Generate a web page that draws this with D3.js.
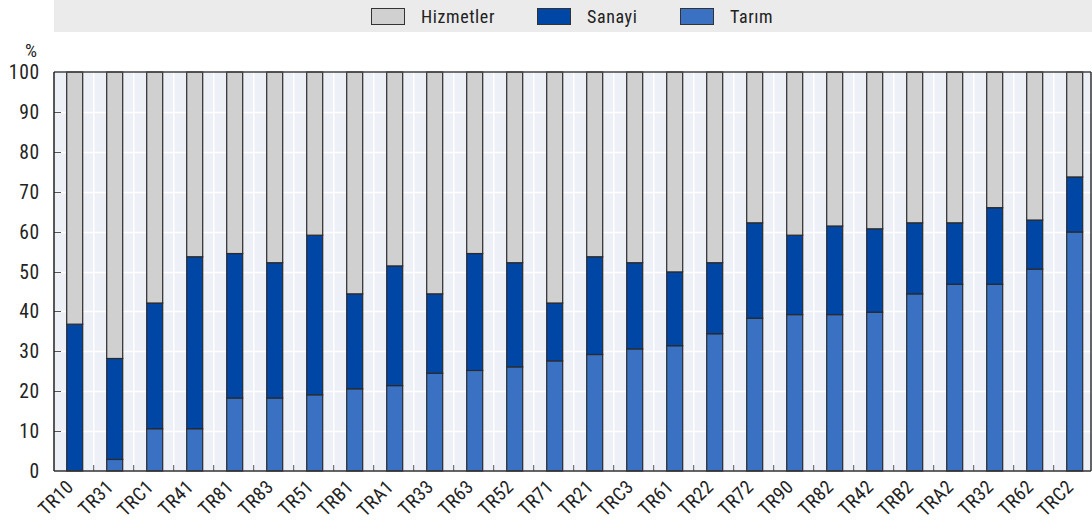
<!DOCTYPE html>
<html>
<head>
<meta charset="utf-8">
<script src="https://cdn.jsdelivr.net/npm/d3@7"></script>
<style>
  html, body { margin: 0; padding: 0; background: #fff; }
  svg { display: block; }
  text { font-family: "Liberation Sans Narrow", "Roboto Condensed", "DejaVu Sans Condensed", sans-serif; fill: #222; }
</style>
</head>
<body>
<svg id="chart" width="1092" height="532"></svg>
<script>
const categories = ["TR10","TR31","TRC1","TR41","TR81","TR83","TR51","TRB1","TRA1","TR33","TR63","TR52","TR71","TR21","TRC3","TR61","TR22","TR72","TR90","TR82","TR42","TRB2","TRA2","TR32","TR62","TRC2"];
const tarim     = [0, 2.9, 10.6, 10.6, 18.3, 18.3, 19.1, 20.6, 21.4, 24.5, 25.2, 26.1, 27.6, 29.2, 30.6, 31.4, 34.4, 38.3, 39.2, 39.2, 39.8, 44.4, 46.8, 46.8, 50.6, 59.9];
const sanayi    = [36.8, 25.3, 31.5, 43.1, 36.2, 33.9, 40.0, 23.8, 30.0, 19.9, 29.3, 26.1, 14.5, 24.5, 21.6, 18.5, 17.8, 23.9, 19.9, 22.2, 20.9, 17.8, 15.4, 19.2, 12.3, 13.8];
const hizmetler = [63.2, 71.8, 57.9, 46.3, 45.5, 47.8, 40.9, 55.6, 48.6, 55.6, 45.5, 47.8, 57.9, 46.3, 47.8, 50.1, 47.8, 37.8, 40.9, 38.6, 39.3, 37.8, 37.8, 34.0, 37.1, 26.3];
const seriesNames = ["Tarım", "Sanayi", "Hizmetler"];
const legendOrder = ["Hizmetler", "Sanayi", "Tarım"];
const yTicks = [0, 10, 20, 30, 40, 50, 60, 70, 80, 90, 100];

const colors = { "Tarım": "#3b71c3", "Sanayi": "#0046a5", "Hizmetler": "#d0d0d0" };

const svg = d3.select("#chart");
const plot = { left: 54, right: 1091, top: 72, bottom: 471 };

const x = d3.scaleBand().domain(categories).range([54.7, 1094.7]).paddingInner(0.6).paddingOuter(0.3);
const step = x.step();
const y = d3.scaleLinear().domain([0, 100]).range([plot.bottom, plot.top]);

const rows = categories.map((c, i) => ({ cat: c, "Tarım": tarim[i], "Sanayi": sanayi[i], "Hizmetler": hizmetler[i] }));
const stacked = d3.stack().keys(seriesNames)(rows);

// legend band
svg.append("rect").attr("x", 54).attr("y", 0).attr("width", 1038).attr("height", 32).attr("fill", "#ebebeb");
const legendPos = { "Hizmetler": 371, "Sanayi": 537, "Tarım": 680 };
legendOrder.forEach(name => {
  const lx = legendPos[name];
  svg.append("rect").attr("x", lx + 0.5).attr("y", 8.5).attr("width", 33).attr("height", 16)
    .attr("fill", colors[name]).attr("stroke", "#333").attr("stroke-width", 1);
  svg.append("text").attr("x", lx + 50).attr("y", 23).attr("font-size", 18)
    .attr("letter-spacing", 0.6).text(name);
});

// plot background
svg.append("rect").attr("x", plot.left).attr("y", plot.top).attr("width", plot.right - plot.left).attr("height", plot.bottom - plot.top).attr("fill", "#eef0f8");

// horizontal gridlines
svg.append("g").selectAll("line").data(yTicks.slice(1, -1)).join("line")
  .attr("x1", plot.left).attr("x2", plot.right)
  .attr("y1", d => Math.round(y(d)) + 0.5).attr("y2", d => Math.round(y(d)) + 0.5)
  .attr("stroke", "#fff").attr("stroke-width", 1.5);

// vertical gridlines at category boundaries
const boundaryX = categories.slice(1).map(c => x(c) + x.bandwidth() / 2 - step / 2 - 1);
svg.append("g").selectAll("line").data(boundaryX).join("line")
  .attr("x1", d => d).attr("x2", d => d)
  .attr("y1", plot.top).attr("y2", plot.bottom)
  .attr("stroke", "#fff").attr("stroke-width", 1.5);

// bottom ticks
svg.append("g").selectAll("line").data(boundaryX).join("line")
  .attr("x1", d => d).attr("x2", d => d)
  .attr("y1", plot.bottom - 6).attr("y2", plot.bottom)
  .attr("stroke", "#555").attr("stroke-width", 1);

// left ticks (inside)
svg.append("g").selectAll("line").data(yTicks.slice(1, -1)).join("line")
  .attr("x1", plot.left).attr("x2", plot.left + 7)
  .attr("y1", d => Math.round(y(d)) + 0.5).attr("y2", d => Math.round(y(d)) + 0.5)
  .attr("stroke", "#555").attr("stroke-width", 1);

// bars
const barG = svg.append("g");
stacked.forEach(layer => {
  barG.append("g").selectAll("rect").data(layer).join("rect")
    .attr("x", d => x(d.data.cat))
    .attr("width", x.bandwidth())
    .attr("y", d => y(d[1]))
    .attr("height", d => Math.max(0, y(d[0]) - y(d[1])))
    .attr("fill", colors[layer.key])
    .attr("stroke", "#2a2a2a").attr("stroke-width", 1.2);
});

// frame
svg.append("line").attr("x1", plot.left).attr("x2", plot.right).attr("y1", plot.top).attr("y2", plot.top).attr("stroke", "#444").attr("stroke-width", 1.5);
svg.append("line").attr("x1", plot.left).attr("x2", plot.right).attr("y1", plot.bottom).attr("y2", plot.bottom).attr("stroke", "#333").attr("stroke-width", 1.5);
svg.append("line").attr("x1", plot.left).attr("x2", plot.left).attr("y1", plot.top).attr("y2", plot.bottom).attr("stroke", "#222").attr("stroke-width", 1.5);
svg.append("line").attr("x1", plot.right).attr("x2", plot.right).attr("y1", plot.top).attr("y2", plot.bottom).attr("stroke", "#333").attr("stroke-width", 1.5);

// y labels
svg.append("g").selectAll("text").data(yTicks).join("text")
  .attr("x", 40).attr("y", d => y(d) + 7)
  .attr("text-anchor", "end").attr("font-size", 19.5).attr("letter-spacing", 0.8)
  .text(d => d);
svg.append("text").attr("x", 31).attr("y", 57).attr("text-anchor", "middle").attr("font-size", 19).text("%");

// x labels
svg.append("g").selectAll("text").data(categories).join("text")
  .attr("transform", d => `translate(${x(d) + x.bandwidth() / 2 + 0},${plot.bottom + 17}) rotate(-45)`)
  .attr("text-anchor", "end").attr("font-size", 19).attr("letter-spacing", 0.4)
  .text(d => d);
</script>
</body>
</html>
